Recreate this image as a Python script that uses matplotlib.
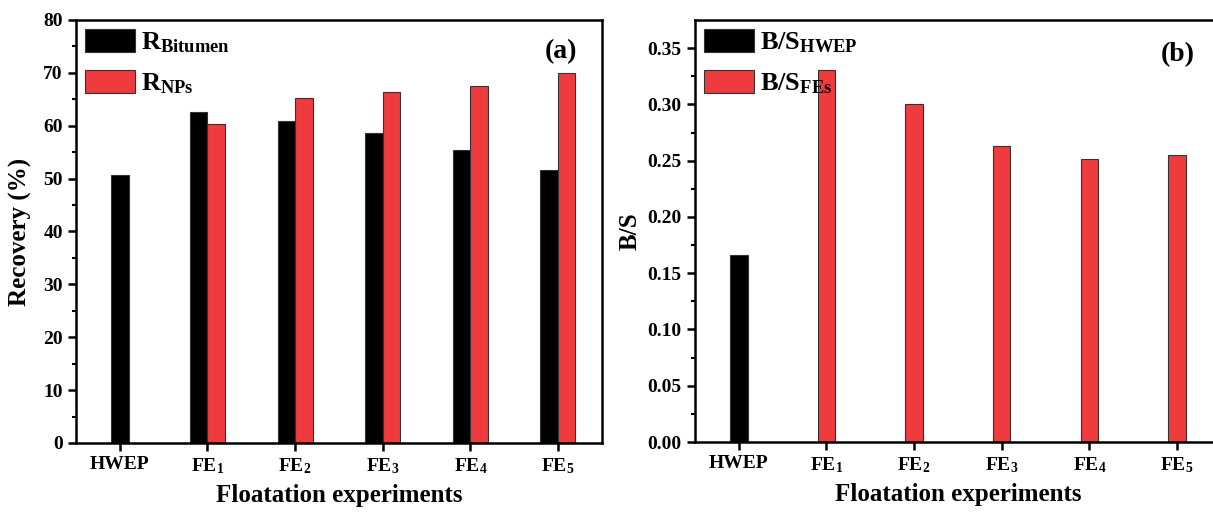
import numpy as np
import matplotlib
matplotlib.use("Agg")
import matplotlib.pyplot as plt
from matplotlib.patches import Patch

plt.rcParams['font.family'] = ['Liberation Serif', 'DejaVu Serif']
plt.rcParams['font.weight'] = 'bold'
plt.rcParams['mathtext.fontset'] = 'custom'
plt.rcParams['mathtext.rm'] = 'Liberation Serif:bold'
plt.rcParams['mathtext.bf'] = 'Liberation Serif:bold'
plt.rcParams['mathtext.it'] = 'Liberation Serif:bold'

# data
categories = ['HWEP', r'$\mathbf{FE_1}$', r'$\mathbf{FE_2}$', r'$\mathbf{FE_3}$',
              r'$\mathbf{FE_4}$', r'$\mathbf{FE_5}$']
rec_bitumen = [50.6, 62.5, 60.8, 58.7, 55.5, 51.7]
rec_nps = [np.nan, 60.4, 65.2, 66.3, 67.5, 70.0]
bs_hwep = [0.1666]
bs_fes = [0.331, 0.3005, 0.2626, 0.2513, 0.2546]

RED = '#EF3A3E'
EDGE = '#333333'
W = 0.2

fig = plt.figure(figsize=(12.13, 5.13), dpi=100)
ax1 = fig.add_axes([0.0627, 0.1365, 0.4334, 0.8246])
# right panel is cut off at the right edge of the picture
ax2 = fig.add_axes([0.5730, 0.1384, 0.4334, 0.8226])

x = np.arange(len(categories))

# (a) recovery
has_red = ~np.isnan(np.array(rec_nps))
off_black = np.where(has_red, -W / 2, 0.0)
ax1.bar(x + off_black, rec_bitumen, W, color='black', edgecolor=EDGE, linewidth=0.8)
ax1.bar(x[has_red] + W / 2, np.array(rec_nps)[has_red], W, color=RED,
        edgecolor=EDGE, linewidth=0.8)
ax1.set_ylim(0, 80)
ax1.set_yticks(np.arange(0, 81, 10))
ax1.set_yticks(np.arange(5, 80, 10), minor=True)
ax1.set_ylabel('Recovery (%)', fontsize=18, fontweight='bold', labelpad=8)
ax1.text(0.923, 0.924, '(a)', transform=ax1.transAxes, fontsize=20,
         fontweight='bold', ha='center', va='center')
h1 = [Patch(facecolor='black', edgecolor=EDGE, linewidth=0.8),
      Patch(facecolor=RED, edgecolor=EDGE, linewidth=0.8)]
ax1.legend(h1, [r'$\mathbf{R_{Bitumen}}$', r'$\mathbf{R_{NPs}}$'], loc='upper left',
           frameon=False, fontsize=19, handlelength=1.9, handleheight=0.95,
           handletextpad=0.2, borderaxespad=0.1, borderpad=0.25, labelspacing=0.55)

# (b) B/S ratio
ax2.bar(x[:1], bs_hwep, W, color='black', edgecolor=EDGE, linewidth=0.8)
ax2.bar(x[1:], bs_fes, W, color=RED, edgecolor=EDGE, linewidth=0.8)
ax2.set_ylim(0, 0.375)
ax2.set_yticks(np.arange(0, 0.351, 0.05))
ax2.set_yticks(np.arange(0.025, 0.375, 0.05), minor=True)
ax2.yaxis.set_major_formatter(matplotlib.ticker.FormatStrFormatter('%.2f'))
ax2.set_ylabel('B/S', fontsize=18, fontweight='bold', labelpad=4)
ax2.text(0.919, 0.919, '(b)', transform=ax2.transAxes, fontsize=20,
         fontweight='bold', ha='center', va='center')
h2 = [Patch(facecolor='black', edgecolor=EDGE, linewidth=0.8),
      Patch(facecolor=RED, edgecolor=EDGE, linewidth=0.8)]
ax2.legend(h2, [r'$\mathbf{B/S_{HWEP}}$', r'$\mathbf{B/S_{FEs}}$'], loc='upper left',
           frameon=False, fontsize=19, handlelength=1.9, handleheight=0.95,
           handletextpad=0.2, borderaxespad=0.1, borderpad=0.25, labelspacing=0.55)
ax2.spines['right'].set_visible(False)

for ax in (ax1, ax2):
    ax.set_xlim(-0.5, 5.5)
    ax.set_xticks(x)
    ax.set_xticklabels(categories)
    ax.set_xlabel('Floatation experiments', fontsize=18, fontweight='bold', labelpad=6)
    ax.tick_params(axis='both', which='major', direction='out', length=6, width=1.8,
                   labelsize=14)
    ax.tick_params(axis='y', which='minor', direction='out', length=3, width=1.5)
    ax.tick_params(axis='x', which='minor', bottom=False)
    for s in ax.spines.values():
        s.set_linewidth(1.8)
    for lab in ax.get_xticklabels() + ax.get_yticklabels():
        lab.set_fontweight('bold')

fig.savefig('out.png', dpi=100)
